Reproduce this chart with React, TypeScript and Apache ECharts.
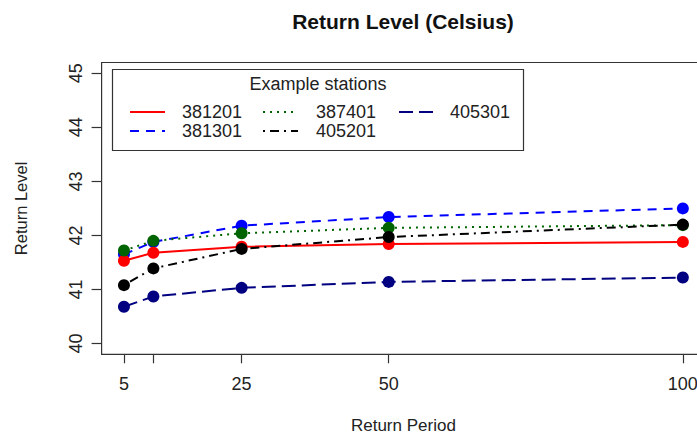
import React, { useEffect, useRef } from "react";
import * as echarts from "echarts";

const returnPeriods = [5, 10, 25, 50, 100];
const xTickValues = [5, 10, 25, 50, 100];
const xLabelValues = [5, 25, 50, 100];
const yTickValues = [40, 41, 42, 43, 44, 45];

const stationNames = ["381201", "381301", "387401", "405201", "405301"];
const s381201 = [41.53, 41.68, 41.79, 41.84, 41.88];
const s381301 = [41.65, 41.88, 42.18, 42.34, 42.5];
const s387401 = [41.72, 41.9, 42.04, 42.14, 42.19];
const s405201 = [41.08, 41.39, 41.75, 41.97, 42.2];
const s405301 = [40.68, 40.87, 41.03, 41.14, 41.22];

const FONT = "Liberation Sans, Arial, sans-serif";

const styles = [
  { name: stationNames[0], values: s381201, color: "#ff0000", dash: "solid" as any, z: 3 },
  { name: stationNames[1], values: s381301, color: "#0000ff", dash: [9, 7], z: 2 },
  { name: stationNames[2], values: s387401, color: "#006400", dash: [2, 5], z: 4 },
  { name: stationNames[3], values: s405201, color: "#000000", dash: [2, 5, 9, 5], z: 5 },
  { name: stationNames[4], values: s405301, color: "#000080", dash: [14, 6], z: 6 },
];

export default function App() {
  const ref = useRef<HTMLDivElement>(null);
  useEffect(() => {
    if (!ref.current) return;
    const chart = echarts.init(ref.current, undefined, { renderer: "svg" });

    const legendPos = [
      { lx: 130, tx: 182, y: 112 },
      { lx: 130, tx: 182, y: 131 },
      { lx: 263, tx: 316, y: 112 },
      { lx: 263, tx: 316, y: 131 },
      { lx: 399, tx: 450, y: 112 },
    ];
    const legendGraphics: any[] = [
      {
        type: "rect",
        shape: { x: 112.5, y: 69.5, width: 411, height: 81 },
        style: { fill: "#fff", stroke: "#333", lineWidth: 1.2 },
        z: 100,
      },
      {
        type: "text",
        x: 318,
        y: 84,
        style: {
          text: "Example stations",
          font: `18px ${FONT}`,
          fill: "#222",
          textAlign: "center",
          textVerticalAlign: "middle",
        },
        z: 101,
      },
    ];
    styles.forEach((s, i) => {
      const p = legendPos[i];
      legendGraphics.push({
        type: "line",
        shape: { x1: p.lx, y1: p.y, x2: p.lx + 35, y2: p.y },
        style: {
          stroke: s.color,
          lineWidth: 2,
          lineDash: s.dash === "solid" ? null : s.dash,
        },
        z: 101,
      });
      legendGraphics.push({
        type: "text",
        x: p.tx,
        y: p.y,
        style: {
          text: s.name,
          font: `18px ${FONT}`,
          fill: "#222",
          textAlign: "left",
          textVerticalAlign: "middle",
        },
        z: 101,
      });
    });

    chart.setOption({
      animation: false,
      backgroundColor: "#ffffff",
      grid: {
        left: 101.6,
        top: 62.5,
        width: 603.6,
        height: 291.8,
        show: true,
        borderColor: "#333",
        borderWidth: 1.2,
        containLabel: false,
        outerBoundsMode: "none",
      },
      xAxis: {
        type: "value",
        min: 1.2,
        max: 103.8,
        name: "Return Period",
        nameLocation: "middle",
        nameGap: 63,
        nameTextStyle: { fontFamily: FONT, fontSize: 17, color: "#222", verticalAlign: "top" },
        axisLine: { show: false },
        axisTick: {
          show: true,
          length: 9,
          customValues: xTickValues,
          lineStyle: { color: "#333", width: 1.2 },
        },
        axisLabel: {
          customValues: xLabelValues,
          margin: 21,
          fontFamily: FONT,
          fontSize: 18,
          color: "#222",
          showMinLabel: true,
          showMaxLabel: true,
        },
        splitLine: { show: false },
      },
      yAxis: {
        type: "value",
        min: 39.8,
        max: 45.2,
        name: "Return Level",
        nameLocation: "middle",
        nameRotate: 90,
        nameGap: 72,
        nameTextStyle: { fontFamily: FONT, fontSize: 16.5, color: "#222" },
        axisLine: { show: false },
        axisTick: {
          show: true,
          length: 10,
          customValues: yTickValues,
          lineStyle: { color: "#333", width: 1.2 },
        },
        axisLabel: {
          customValues: yTickValues,
          rotate: 90,
          margin: 17,
          fontFamily: FONT,
          fontSize: 18,
          color: "#222",
        },
        splitLine: { show: false },
      },
      graphic: [
        {
          type: "text",
          x: 403,
          y: 21,
          style: {
            text: "Return Level (Celsius)",
            font: `bold 21px ${FONT}`,
            fill: "#111",
            textAlign: "center",
            textVerticalAlign: "middle",
          },
        },
        ...legendGraphics,
      ],
      series: styles.map((s) => ({
        type: "line",
        name: s.name,
        z: s.z,
        data: returnPeriods.map((x, i) => [x, s.values[i]]),
        symbol: "circle",
        symbolSize: 12,
        showSymbol: true,
        itemStyle: { color: s.color },
        lineStyle: { color: s.color, width: 2, type: s.dash },
        emphasis: { disabled: true },
      })),
    });
    return () => chart.dispose();
  }, []);
  return (
    <div
      ref={ref}
      style={{ position: "fixed", left: 0, top: 0, width: 697, height: 434 }}
    />
  );
}
